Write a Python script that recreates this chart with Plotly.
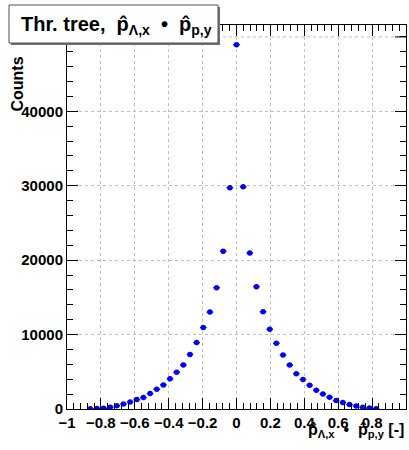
import numpy as np
import plotly.graph_objects as go

# ---- data ----
n_bins = 51
x_lo, x_hi = -1.0, 1.0
bin_index = list(range(-22, 22))
counts = [20, 60, 100, 220, 450, 680, 950, 1260, 1530, 2070, 2660, 3240, 4050, 4950,
          5900, 7340, 8920, 10950, 13020, 16300, 21200, 29730, 48960, 29870, 20970,
          16440, 13060, 10720, 8830, 7250, 5900, 4730, 3960, 3200, 2520, 2030, 1580,
          1130, 860, 590, 400, 225, 135, 20]
x_ticks = [-1, -0.8, -0.6, -0.4, -0.2, 0, 0.2, 0.4, 0.6, 0.8, 1]
x_tick_text = ["\u22121", "\u22120.8", "\u22120.6", "\u22120.4", "\u22120.2", "0",
               "0.2", "0.4", "0.6", "0.8", "1"]
y_ticks = [0, 10000, 20000, 30000, 40000]
y_tick_text = ["0", "10000", "20000", "30000", "40000"]
y_extra_grid = [50000]

bw = (x_hi - x_lo) / n_bins
xs = [k * bw for k in bin_index]
errs = [float(np.sqrt(c)) for c in counts]

W, H = 409, 450
L, R, T, B = 67, 406, 25, 409
pw, ph = R - L, B - T

def px(x):
    return (x - L) / pw

def py(y):
    return (B - y) / ph

font_b = "Liberation Sans, Arial, Helvetica, sans-serif"

fig = go.Figure()
fig.add_trace(go.Scatter(
    x=xs, y=counts, mode="markers",
    marker=dict(color="#0000ff", size=5.5, symbol="circle"),
    error_x=dict(type="constant", value=bw / 2, color="#0000ff", thickness=1.3, width=0),
    error_y=dict(type="data", array=errs, color="#0000ff", thickness=1.3, width=0),
    showlegend=False, hoverinfo="skip",
))

axis_common = dict(
    showline=True, linecolor="black", linewidth=1, mirror="ticks",
    ticks="inside", ticklen=11, tickwidth=1, tickcolor="black",
    showgrid=True, gridcolor="#c0c0c0", griddash="dot", gridwidth=1,
    zeroline=False,
    tickfont=dict(family=font_b, size=15, color="black", weight="bold"),
)

fig.update_layout(
    width=W, height=H,
    margin=dict(l=L, r=W - R, t=T, b=H - B),
    paper_bgcolor="white", plot_bgcolor="white",
    xaxis=dict(range=[x_lo, x_hi], tickvals=x_ticks, ticktext=x_tick_text,
               minor=dict(dtick=0.04, ticks="inside", ticklen=6, tickcolor="black",
                          showgrid=False),
               **axis_common),
    yaxis=dict(range=[0, 51600], tickvals=y_ticks, ticktext=y_tick_text,
               minor=dict(dtick=2000, ticks="inside", ticklen=6, tickcolor="black",
                          showgrid=False),
               **axis_common),
)

# extra major grid line + ticks at 50000 (no label in reference)
tick_dx = 11 / pw * (x_hi - x_lo)
for yv in y_extra_grid:
    fig.add_shape(type="line", xref="x", yref="y", x0=x_lo, x1=x_hi, y0=yv, y1=yv,
                  line=dict(color="#c0c0c0", width=1, dash="dot"), layer="below")
    fig.add_shape(type="line", xref="x", yref="y", x0=x_lo, x1=x_lo + tick_dx, y0=yv, y1=yv,
                  line=dict(color="black", width=1))
    fig.add_shape(type="line", xref="x", yref="y", x0=x_hi - tick_dx, x1=x_hi, y0=yv, y1=yv,
                  line=dict(color="black", width=1))

# title box with shadow
fig.add_shape(type="rect", xref="paper", yref="paper",
              x0=px(11), x1=px(220), y0=py(45), y1=py(7),
              fillcolor="#707070", line=dict(width=0), layer="above")
fig.add_shape(type="rect", xref="paper", yref="paper",
              x0=px(9), x1=px(218), y0=py(43), y1=py(5),
              fillcolor="white", line=dict(color="#505050", width=1), layer="above")
fig.add_annotation(
    xref="paper", yref="paper", x=px(19), y=py(25), xanchor="left", yanchor="middle",
    text="<b>Thr. tree,  p\u0302<sub>\u039b,x</sub>  \u2022  p\u0302<sub>p,y</sub></b>",
    showarrow=False, font=dict(family=font_b, size=20, color="black"),
)

# axis titles
fig.add_annotation(
    xref="paper", yref="paper", x=px(406), y=py(430), xanchor="right", yanchor="middle",
    text="<b>p\u0302<sub>\u039b,x</sub>  \u2022  p\u0302<sub>p,y</sub> [-]</b>",
    showarrow=False, font=dict(family=font_b, size=16, color="black"),
)
fig.add_annotation(
    xref="paper", yref="paper", x=px(17), y=py(55), xanchor="center", yanchor="top",
    text="<b>Counts</b>", textangle=-90,
    showarrow=False, font=dict(family=font_b, size=16, color="black"),
)

fig.write_html("out.html", config={"displayModeBar": False},
               post_script="document.body.style.margin='0';")
